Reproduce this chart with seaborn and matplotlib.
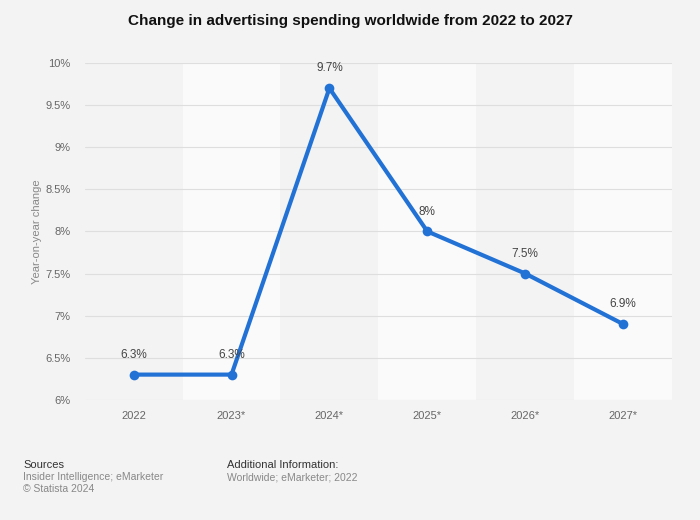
import matplotlib
matplotlib.use("Agg")
import matplotlib.pyplot as plt
import numpy as np
import pandas as pd
import seaborn as sns

sns.set_style("white")
plt.rcParams['font.family'] = ['Liberation Sans', 'DejaVu Sans']

# data
years = ["2022", "2023*", "2024*", "2025*", "2026*", "2027*"]
change = [6.3, 6.3, 9.7, 8.0, 7.5, 6.9]
labels = ["6.3%", "6.3%", "9.7%", "8%", "7.5%", "6.9%"]
yticks = [6, 6.5, 7, 7.5, 8, 8.5, 9, 9.5, 10]

df = pd.DataFrame({"pos": np.arange(len(years)), "change": change})

bg = "#f3f3f3"
fig = plt.figure(figsize=(7, 5.2), dpi=100, facecolor=bg)
ax = fig.add_axes([0.121, 0.231, 0.839, 0.648])
ax.set_facecolor(bg)

# alternating column bands
for i in range(len(years)):
    col = "#fafafa" if i % 2 == 1 else bg
    ax.axvspan(i - 0.5, i + 0.5, color=col, zorder=0, lw=0)

for t in yticks:
    ax.axhline(t, color="#dedede", lw=0.8, zorder=1)

sns.lineplot(data=df, x="pos", y="change", ax=ax, color="#2272d6", lw=3,
             marker="o", markersize=7, markeredgewidth=0, zorder=3)

for i, (v, lab) in enumerate(zip(change, labels)):
    ax.annotate(lab, (i, v), xytext=(0, 10), textcoords="offset points",
                ha="center", va="bottom", fontsize=8.5, color="#444444", zorder=4)

ax.set_xlim(-0.5, len(years) - 0.5)
ax.set_ylim(6, 10)
ax.set_xticks(range(len(years)))
ax.set_xticklabels(years)
ax.set_yticks(yticks)
ax.set_yticklabels([("%g" % t) + "%" for t in yticks])
ax.tick_params(axis="both", length=0, labelsize=8, labelcolor="#666666")
ax.tick_params(axis="x", pad=8)
ax.tick_params(axis="y", pad=10)
for s in ax.spines.values():
    s.set_visible(False)
ax.set_xlabel("")
ax.set_ylabel("Year-on-year change", fontsize=8, color="#888888")
ax.yaxis.set_label_coords(-0.072, 0.5)

fig.text(0.5, 1 - 21 / 520, "Change in advertising spending worldwide from 2022 to 2027",
         ha="center", va="center", fontsize=11, fontweight="bold", color="#111111")

fig.text(23 / 700, 1 - 465 / 520, "Sources", fontsize=8, color="#333333", va="center")
fig.text(23 / 700, 1 - 477 / 520, "Insider Intelligence; eMarketer", fontsize=7.5,
         color="#888888", va="center")
fig.text(23 / 700, 1 - 489 / 520, "\u00a9 Statista 2024", fontsize=7.5,
         color="#888888", va="center")
fig.text(227 / 700, 1 - 465 / 520, "Additional Information:", fontsize=8,
         color="#333333", va="center")
fig.text(227 / 700, 1 - 477 / 520, "Worldwide; eMarketer; 2022", fontsize=7.5,
         color="#888888", va="center")

fig.savefig("out.png", dpi=100, facecolor=bg)
